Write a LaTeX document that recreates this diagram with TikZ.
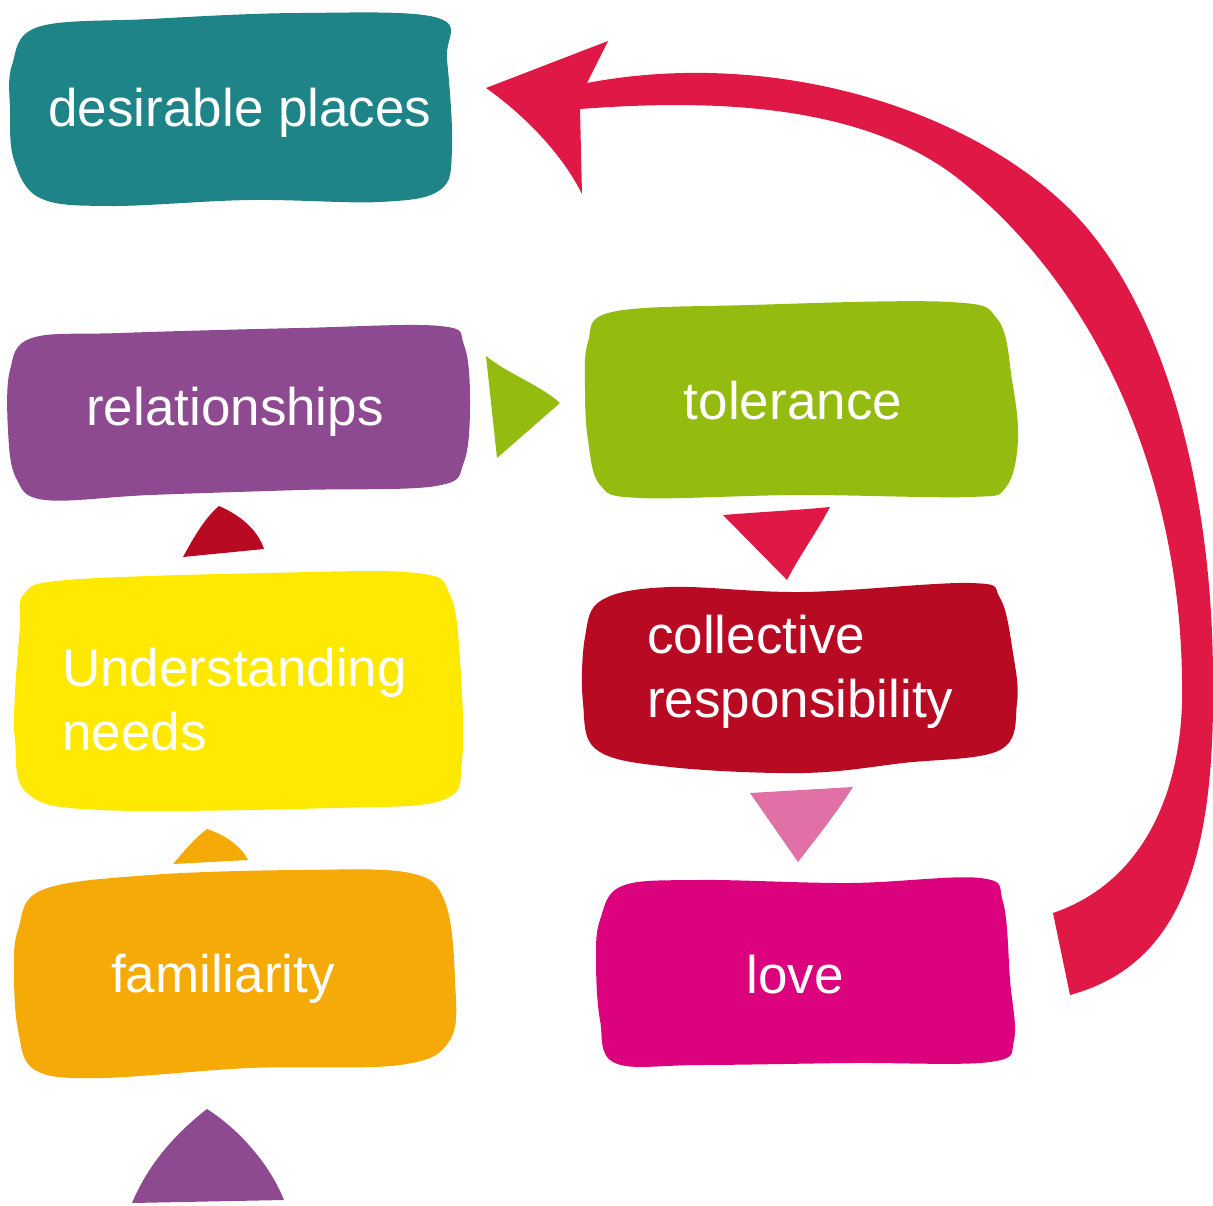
\documentclass[tikz,border=0pt]{standalone}
\usepackage{fontspec}
\setmainfont{Liberation Sans}
\definecolor{cteal}{HTML}{1F8487}
\definecolor{cpurple}{HTML}{8E4A90}
\definecolor{cgreen}{HTML}{94BB0F}
\definecolor{cyellow}{HTML}{FFE900}
\definecolor{corange}{HTML}{F6AA07}
\definecolor{cdarkred}{HTML}{B90A24}
\definecolor{cmagenta}{HTML}{DC027D}
\definecolor{ccrimson}{HTML}{E01845}
\definecolor{cpink}{HTML}{E070A5}
\begin{document}
\begin{tikzpicture}[x=1pt,y=-1pt,
  lbl/.style={text=white, inner sep=0pt, font=\fontsize{53}{64}\selectfont},
  blob/.style={smooth cycle, tension=0.6}]
\useasboundingbox (0,0) rectangle (1213,1206);

% boxes
\fill[cteal] plot[blob] coordinates {(12,65) (38,27) (150,19) (300,13) (438,18) (447,60) (452,150) (440,190) (380,202) (250,200) (110,206) (40,198) (14,160) (10,110)};
\fill[cpurple] plot[blob] coordinates {(10,370) (32,338) (120,333) (300,328) (440,326) (464,345) (470,400) (464,462) (436,486) (300,490) (150,495) (45,500) (16,478) (8,430)};
\fill[cgreen] plot[blob] coordinates {(588,342) (612,312) (750,305) (950,302) (998,320) (1012,380) (1018,440) (1006,487) (970,497) (800,495) (640,498) (600,485) (588,440) (585,390)};
\fill[cyellow] plot[blob] coordinates {(20,627) (24,594) (67,580) (267,573) (417,573) (450,595) (460,660) (462,760) (443,800) (333,808) (100,810) (27,793) (15,740) (15,693)};
\fill[corange] plot[blob] coordinates {(18,930) (42,890) (150,875) (300,870) (410,873) (445,902) (455,980) (450,1040) (400,1065) (250,1068) (100,1078) (35,1070) (18,1030) (14,970)};
\fill[cdarkred] plot[blob] coordinates {(585,637) (602,600) (670,587) (803,592) (970,583) (1000,598) (1013,653) (1017,703) (1000,750) (903,763) (803,773) (670,767) (597,750) (583,703)};
\fill[cmagenta] plot[blob] coordinates {(600,920) (622,886) (700,880) (850,883) (980,878) (1003,902) (1010,980) (1014,1040) (990,1062) (850,1063) (700,1065) (615,1063) (600,1020) (596,960)};

% labels
\node[lbl, anchor=base] (des) at (240,127) {desirable places};
\node[lbl, anchor=base] (rel) at (235,425) {relationships};
\node[lbl, anchor=base] (tol) at (793,419) {tolerance};
\node[lbl, anchor=base west] (und) at (62,686) {\vtop{\hbox{Understanding}\hbox{needs}}};
\node[lbl, anchor=base west] (col) at (647,653) {\vtop{\hbox{collective}\hbox{responsibility}}};
\node[lbl, anchor=base] (fam) at (223,992) {familiarity};
\node[lbl, anchor=base] (love) at (795,993) {love};

% triangle connectors
\fill[cgreen] (486,356) .. controls (510,375) and (540,385) .. (560,403) -- (497,458) -- cycle;
\fill[cdarkred] (183,557) .. controls (195,535) and (205,518) .. (219,506) .. controls (240,515) and (258,530) .. (264,549) -- cycle;
\fill[corange] (173,864) .. controls (185,850) and (195,838) .. (207,829) .. controls (225,835) and (240,845) .. (248,860) -- cycle;
\fill[ccrimson] (723,515) .. controls (760,512) and (800,510) .. (830,507) .. controls (815,535) and (800,555) .. (787,580) -- cycle;
\fill[cpink] (750,793) -- (853,787) .. controls (835,815) and (815,840) .. (798,862) -- cycle;
\fill[cpurple] (132,1203) .. controls (150,1160) and (180,1130) .. (207,1109) .. controls (240,1130) and (270,1165) .. (284,1200) -- cycle;

% big return arrow from love to desirable places
\coordinate (tip) at (486,88);
\coordinate (tailout) at (1070,995);
\coordinate (tailin) at (1053,913);
\fill[ccrimson] (tip) -- (608,41) -- (587,83)
  .. controls (760,50) and (950,100) .. (1060,200)
  .. controls (1160,290) and (1213,480) .. (1213,680)
  .. controls (1215,860) and (1180,965) .. (tailout)
  -- (tailin)
  .. controls (1150,880) and (1185,780) .. (1182,680)
  .. controls (1180,480) and (1100,292) .. (960,180)
  .. controls (860,100) and (700,100) .. (580,109)
  -- (582,194) .. controls (560,150) and (520,112) .. (tip) -- cycle;
\end{tikzpicture}
\end{document}
